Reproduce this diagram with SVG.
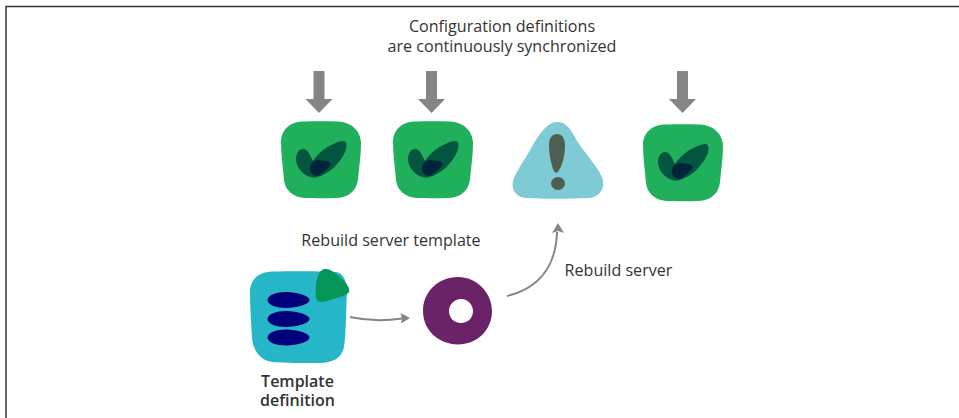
<svg xmlns="http://www.w3.org/2000/svg" width="959" height="418" viewBox="0 0 959 418">
<style>
.t{font-family:"Open Sans","Noto Sans",sans-serif;font-size:16.100px;fill:#333;text-anchor:middle}
.b{font-weight:600;font-size:16px}
.g{fill:#20b05c}.d1{fill:#02553f}.d2{fill:#00243a}
.c{fill:none;stroke:#858585;stroke-width:2}
.h{fill:#858585}
.a{fill:#858585}
.n{fill:#00007a}
</style>
<defs>
<g id="chk">
<path class="g" d="M-19,-38.500 C-5,-39 5,-39 17,-38.500 C30,-38 40,-29 40,-17 C40,-5 38,8 37,19 C36,31 27,38 14,38 C2,38.500 -8,38 -17,38 C-28,37 -36,30 -37,20 C-38,8 -40,-6 -40,-18 C-40,-30 -31,-38 -19,-38.500 Z"/>
<path class="d1" d="M-18,-11 C-14,-11 -12,-7 -10,-3 L-8,1 C-2,-8 8,-16 21,-19 C27,-20 26,-13 24,-8 C19,3 8,15 -6,17.500 C-16,18 -25,8 -25,-1 C-25,-7 -22,-11 -18,-11 Z"/>
<path class="d2" d="M-11,7 C-10,2 -6,0 -2,0 C2,1 7,0 10,4 C8,8 2,13 -3,16 C-8,16 -12,12 -11,7 Z"/>
</g>
<path id="arr" class="a" d="M-5.500,-28 H5.500 V0 H13.500 L0,14 L-13.500,0 H-5.500 Z"/>
<path id="egg" class="n" d="M-21,0 C-21,-5 -12,-8 -3,-8 C9,-8 21,-4 21,0 C21,4 9,8 -3,8 C-12,8 -21,5 -21,0 Z"/>
</defs>
<path d="M6,418 V6.500 H959" fill="none" stroke="#333" stroke-width="1.500"/>
<g id="title"><text class="t" x="502" y="32">Configuration definitions</text><text class="t" x="502" y="52">are continuously synchronized</text></g>
<g id="sync-arrows"><use href="#arr" x="319" y="99"/><use href="#arr" x="431.500" y="99"/><use href="#arr" x="682.500" y="99"/></g>
<g id="server-1"><use href="#chk" x="321" y="160"/></g>
<g id="server-2"><use href="#chk" x="433" y="160"/></g>
<g id="server-warning">
<path fill="#7ecbd5" d="M557,122 C566,122 571,129 577,141 C584,152 597,166 602,177 C606,188 600,197 589,198 C570,199 542,199 526,198 C515,197 510,188 514,178 C519,167 527,156 534,143 C541,132 548,122 557,122 Z"/>
<path fill="#4f5e51" d="M557,134 C562,134 565,138 565,146 C565,156 562,166 558,172 C556,174 554,172 553,169 C550,160 549,152 549,145 C549,138 552,134 557,134 Z"/>
<ellipse cx="558" cy="183.500" rx="7" ry="6.500" fill="#4f5e51"/>
</g>
<g id="server-3"><use href="#chk" x="683" y="163"/></g>
<g id="template">
<path fill="#25b6c8" d="M272,271.500 C290,271 320,271 336,272 C344,273 347,282 347,292 C346,310 346,335 344,347 C342,358 332,363 320,363 C305,363 285,363 272,362 C260,360 253,350 252,338 C251,322 250,305 250,290 C251,278 260,272 272,271.500 Z"/>
<path fill="#039657" d="M325,269 C330,268 337,274 343,280 C348,285 350,289 349,292 C347,296 338,297 330,300 C324,302 318,304 316,298 C315,290 316,282 318,276 C320,271 322,269 325,269 Z"/>
<use href="#egg" x="288.500" y="300"/>
<use href="#egg" x="288.500" y="319"/>
<use href="#egg" x="288.500" y="337.500"/>
<text class="t b"><tspan x="297.500" y="387">Template</tspan><tspan x="297.500" y="406">definition</tspan></text>
</g>
<g id="rebuild"><path fill="#6b2367" d="M458,277 C477,277 492,293 492,311 C492,330 477,344.500 458,344.500 C438,344 423,330 423,311 C423,292 438,277 458,277 Z M461,299 C454,299 449,305 449,311 C449,318 454,323 461,323 C468,323 473,318 473,311 C473,305 468,299 461,299 Z" fill-rule="evenodd"/></g>
<g id="connectors">
<path class="c" d="M350,317 C368,321 385,321 402,318.500"/><path class="h" d="M410,318 L400.500,313 L402,318.500 L401,323.500 Z"/>
<path class="c" d="M507,296 C540,288 556,265 557,232"/><path class="h" d="M558,223 L552,233 L558,231 L564,233 Z"/>
</g>
<g id="labels"><text class="t" x="391" y="246">Rebuild server template</text><text class="t" x="618.500" y="276">Rebuild server</text></g>
</svg>
